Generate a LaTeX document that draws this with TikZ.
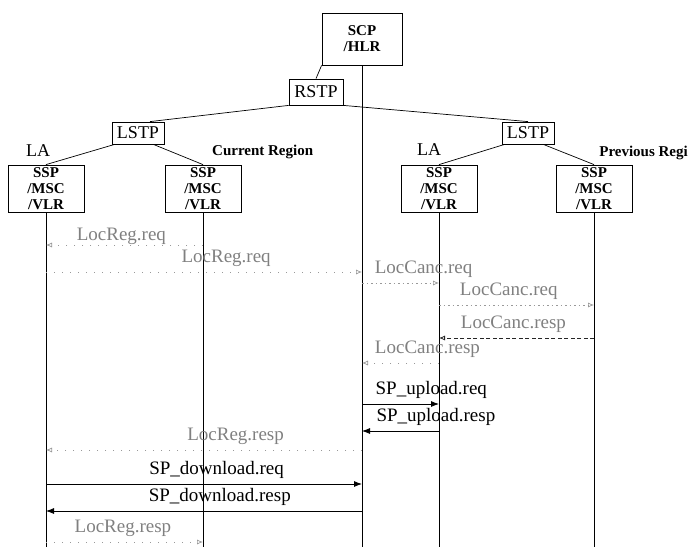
\documentclass[tikz,border=0pt]{standalone}
\usepackage{fontspec}
\setmainfont{Liberation Serif}
\usetikzlibrary{arrows.meta, positioning}
\definecolor{msggray}{gray}{0.5}
\definecolor{dotgray}{gray}{0.6}
\tikzset{
  entity/.style={draw, line width=0.8pt, minimum width=76pt, minimum height=47pt, inner sep=1pt, align=center, font=\fontsize{15}{16}\selectfont\bfseries},
  stp/.style={draw, line width=0.8pt, inner sep=1pt, font=\fontsize{18}{20}\selectfont},
  region/.style={anchor=west, inner sep=0pt, font=\fontsize{15}{17}\selectfont\bfseries},
  lalbl/.style={inner sep=0pt, font=\fontsize{18}{20}\selectfont},
  link/.style={line width=0.7pt},
  lifeline/.style={line width=0.8pt},
  sig/.style={-{Latex[length=8pt,width=6pt]}, line width=0.8pt},
  faintsig/.style={-{Latex[open,length=6pt,width=5pt]}, line width=0.7pt, dotgray, dash pattern=on 1pt off 7pt},
  densesig/.style={-{Latex[open,length=6pt,width=5pt]}, line width=0.7pt, dotgray, dash pattern=on 1.5pt off 3pt},
  dashsig/.style={-{Latex[open,length=6pt,width=5pt]}, line width=0.8pt, black!85, dash pattern=on 4pt off 2.5pt},
  lbl/.style={anchor=base, yshift=9.5pt, inner sep=0pt, font=\fontsize{19}{21}\selectfont},
  glbl/.style={lbl, text=msggray}
}

\begin{document}
\begin{tikzpicture}[x=1pt, y=-1pt]
\useasboundingbox (0,0) rectangle (689,547);

% network elements
\node[entity, minimum width=80pt, minimum height=52pt] (scp) at (362,39) {SCP\\/HLR};
\node[stp, minimum width=54pt, minimum height=26pt] (rstp) at (316,92) {RSTP};
\node[stp, minimum width=52pt, minimum height=22pt] (lstpA) at (138,133) {LSTP};
\node[stp, minimum width=52pt, minimum height=22pt] (lstpB) at (528,133) {LSTP};
\node[entity] (sspA) at (46,188.5) {SSP\\/MSC\\/VLR};
\node[entity] (sspB) at (203,188.5) {SSP\\/MSC\\/VLR};
\node[entity] (sspC) at (439,188.5) {SSP\\/MSC\\/VLR};
\node[entity] (sspD) at (594,188.5) {SSP\\/MSC\\/VLR};

\node[lalbl] (laA) at (38,151) {LA};
\node[lalbl] (laB) at (429,150) {LA};
\node[region] (curreg) at (212,152) {Current Region};
\node[region, anchor=east] (prevreg) at (688,153) {Previous Regi};

% signalling links
\draw[link] (scp.south west) -- (rstp.north);
\draw[link] (rstp.south west) -- ([xshift=12pt]lstpA.north);
\draw[link] (rstp.south east) -- (lstpB.north);
\draw[link] ([xshift=3pt]lstpA.south west) -- (sspA.north);
\draw[link] ([xshift=-11pt]lstpA.south east) -- (sspB.north);
\draw[link] ([xshift=3pt]lstpB.south west) -- (sspC.north);
\draw[link] ([xshift=-11pt]lstpB.south east) -- (sspD.north);

% lifelines
\coordinate (endA) at (sspA.south |- 0,547);
\coordinate (endB) at (sspB.south |- 0,547);
\coordinate (endS) at (scp.south |- 0,547);
\coordinate (endC) at (sspC.south |- 0,547);
\coordinate (endD) at (sspD.south |- 0,547);
\draw[lifeline] (sspA.south) -- (endA);
\draw[lifeline] (sspB.south) -- (endB);
\draw[lifeline] (scp.south) -- (endS);
\draw[lifeline] (sspC.south) -- (endC);
\draw[lifeline] (sspD.south) -- (endD);

% messages
\draw[faintsig] (endB |- 0,245) -- node[glbl, pos=0.52, yshift=-4.5pt] {LocReg.req} (endA |- 0,245);
\draw[faintsig] (endA |- 0,272) -- node[glbl, pos=0.57] {LocReg.req} (endS |- 0,272);
\draw[densesig] (endS |- 0,283) -- node[glbl, pos=0.8] {LocCanc.req} (endC |- 0,283);
\draw[densesig] (endC |- 0,305) -- node[glbl, pos=0.45] {LocCanc.req} (endD |- 0,305);
\draw[dashsig] (endD |- 0,338) -- node[glbl, pos=0.52] {LocCanc.resp} (endC |- 0,338);
\draw[faintsig] (endC |- 0,363) -- node[glbl, pos=0.15] {LocCanc.resp} (endS |- 0,363);
\draw[sig] (endS |- 0,404) -- node[lbl, pos=0.9] {SP\_upload.req} (endC |- 0,404);
\draw[sig] (endC |- 0,431) -- node[lbl, pos=0.04] {SP\_upload.resp} (endS |- 0,431);
\draw[faintsig] (endS |- 0,450) -- node[glbl, pos=0.4] {LocReg.resp} (endA |- 0,450);
\draw[sig] (endA |- 0,484) -- node[lbl, pos=0.54] {SP\_download.req} (endS |- 0,484);
\draw[sig] (endS |- 0,511) -- node[lbl, pos=0.45] {SP\_download.resp} (endA |- 0,511);
\draw[faintsig] (endA |- 0,542) -- node[glbl, pos=0.49] {LocReg.resp} (endB |- 0,542);
\end{tikzpicture}
\end{document}
